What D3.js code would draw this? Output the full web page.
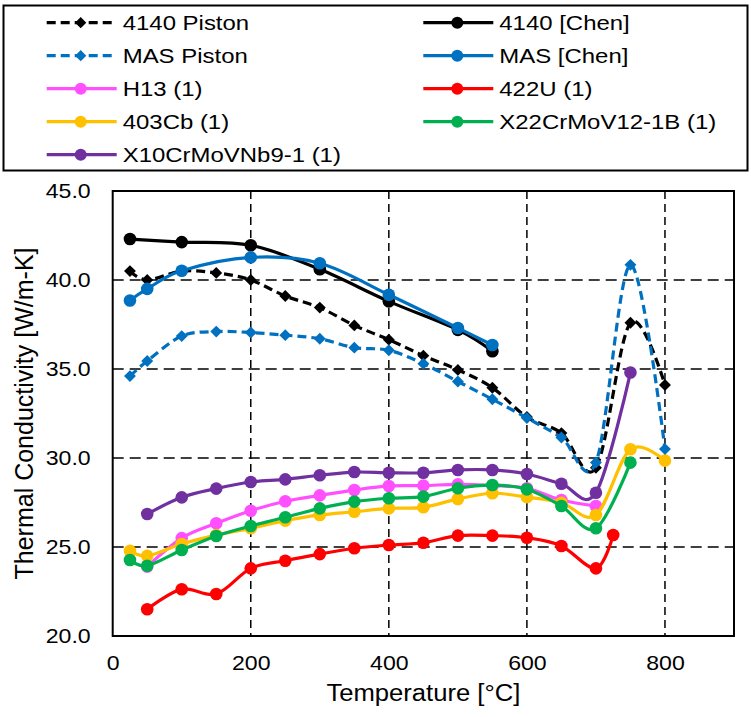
<!DOCTYPE html>
<html>
<head>
<meta charset="utf-8">
<script src="https://cdn.jsdelivr.net/npm/d3@7"></script>
<style>
  body { margin: 0; background: #fff; }
  svg { display: block; font-family: "Liberation Sans", Arial, sans-serif; }
</style>
</head>
<body>
<div class="chart"></div>
<script>
// temperatures [°C] and thermal conductivity [W/m-K]
const piston4140T = [25, 50, 100, 150, 200, 250, 300, 350, 400, 450, 500, 550, 600, 650, 700, 750, 800];
const piston4140K = [40.5, 40.0, 40.5, 40.4, 40.0, 39.1, 38.45, 37.45, 36.65, 35.75, 34.95, 33.95, 32.3, 31.4, 29.45, 37.6, 34.1];

const chen4140T = [25, 100, 200, 300, 400, 500, 550];
const chen4140K = [42.3, 42.13, 41.95, 40.6, 38.8, 37.2, 36.0];

const pistonMasT = [25, 50, 100, 150, 200, 250, 300, 350, 400, 450, 500, 550, 600, 650, 700, 750, 800];
const pistonMasK = [34.6, 35.45, 36.85, 37.1, 37.05, 36.9, 36.7, 36.2, 36.05, 35.3, 34.3, 33.3, 32.25, 31.15, 29.75, 40.85, 30.5];

const chenMasT = [25, 50, 100, 200, 300, 400, 500, 550];
const chenMasK = [38.85, 39.5, 40.52, 41.27, 40.94, 39.17, 37.3, 36.35];

const h13T = [50, 100, 150, 200, 250, 300, 350, 400, 450, 500, 550, 600, 650, 700];
const h13K = [23.9, 25.5, 26.33, 27.04, 27.57, 27.9, 28.2, 28.43, 28.45, 28.52, 28.45, 28.3, 27.64, 27.3];

const u422T = [50, 100, 150, 200, 250, 300, 350, 400, 450, 500, 550, 600, 650, 700, 725];
const u422K = [21.5, 22.63, 22.36, 23.8, 24.23, 24.6, 24.93, 25.11, 25.24, 25.64, 25.64, 25.52, 25.06, 23.8, 25.67];

const cb403T = [25, 50, 100, 150, 200, 250, 300, 350, 400, 450, 500, 550, 600, 650, 700, 750, 800];
const cb403K = [24.78, 24.5, 25.17, 25.67, 26.05, 26.48, 26.8, 26.98, 27.17, 27.23, 27.7, 28.02, 27.8, 27.49, 26.8, 30.49, 29.85];

const x22T = [25, 50, 100, 150, 200, 250, 300, 350, 400, 450, 500, 550, 600, 650, 700, 750];
const x22K = [24.27, 23.95, 24.83, 25.62, 26.18, 26.67, 27.17, 27.55, 27.74, 27.83, 28.3, 28.48, 28.24, 27.3, 26.05, 29.74];

const x10T = [50, 100, 150, 200, 250, 300, 350, 400, 450, 500, 550, 600, 650, 700, 750];
const x10K = [26.85, 27.79, 28.28, 28.65, 28.8, 29.03, 29.21, 29.17, 29.17, 29.33, 29.33, 29.1, 28.55, 28.05, 34.8];

const xTicks = [0, 200, 400, 600, 800];
const yTicks = [20, 25, 30, 35, 40, 45];

// legend order = series order (row-major, two columns)
const series = [
  { name: '4140 Piston', t: piston4140T, k: piston4140K, color: '#000000', dashed: true, marker: 'diamond' },
  { name: '4140 [Chen]', t: chen4140T, k: chen4140K, color: '#000000', dashed: false, marker: 'circle' },
  { name: 'MAS Piston', t: pistonMasT, k: pistonMasK, color: '#0070C0', dashed: true, marker: 'diamond' },
  { name: 'MAS [Chen]', t: chenMasT, k: chenMasK, color: '#0070C0', dashed: false, marker: 'circle' },
  { name: 'H13 (1)', t: h13T, k: h13K, color: '#FF4FFF', dashed: false, marker: 'circle' },
  { name: '422U (1)', t: u422T, k: u422K, color: '#FF0000', dashed: false, marker: 'circle' },
  { name: '403Cb (1)', t: cb403T, k: cb403K, color: '#FFC000', dashed: false, marker: 'circle' },
  { name: 'X22CrMoV12-1B (1)', t: x22T, k: x22K, color: '#00B050', dashed: false, marker: 'circle' },
  { name: 'X10CrMoVNb9-1 (1)', t: x10T, k: x10K, color: '#7030A0', dashed: false, marker: 'circle' }
];

const width = 751;
const height = 717;
const plot = { left: 112.7, right: 734, top: 191, bottom: 636 };

// the original figure is a bit wider than tall, so horizontal text gets stretched
function stretch(sel, factor) {
  sel.each(function () {
    const len = this.getComputedTextLength();
    d3.select(this)
      .attr('textLength', len * factor)
      .attr('lengthAdjust', 'spacingAndGlyphs');
  });
}

const svg = d3.select('.chart')
  .append('svg')
  .attr('width', width)
  .attr('height', height);

const x = d3.scaleLinear().domain([0, 900]).range([plot.left, plot.right]);
const y = d3.scaleLinear().domain([20, 45]).range([plot.bottom, plot.top]);

const diamond = d3.symbol().type(d3.symbolDiamond2).size(90);
const diamondSmall = d3.symbol().type(d3.symbolDiamond2).size(80);

// grid
svg.append('g')
  .selectAll('line')
  .data(yTicks.filter(v => v > 20 && v < 45))
  .join('line')
  .attr('x1', plot.left).attr('x2', plot.right)
  .attr('y1', d => y(d)).attr('y2', d => y(d))
  .attr('stroke', '#000')
  .attr('stroke-width', 1.5)
  .attr('stroke-dasharray', '11,6');

svg.append('g')
  .selectAll('line')
  .data(xTicks.filter(v => v > 0))
  .join('line')
  .attr('x1', d => x(d)).attr('x2', d => x(d))
  .attr('y1', plot.top).attr('y2', plot.bottom)
  .attr('stroke', '#000')
  .attr('stroke-width', 1.5)
  .attr('stroke-dasharray', '8,5');

// plot border
svg.append('rect')
  .attr('x', plot.left).attr('y', plot.top)
  .attr('width', plot.right - plot.left)
  .attr('height', plot.bottom - plot.top)
  .attr('fill', 'none')
  .attr('stroke', '#000')
  .attr('stroke-width', 2);

// axes (labels only, Excel style)
const xAxis = svg.append('g')
  .attr('transform', `translate(0,${plot.bottom})`)
  .call(d3.axisBottom(x).tickValues(xTicks).tickSize(0).tickPadding(19).tickFormat(d3.format('d')));
xAxis.select('.domain').remove();
xAxis.selectAll('text')
  .attr('font-size', 21).attr('fill', '#000')
  .attr('font-family', '"Liberation Sans", Arial, sans-serif')
  .call(stretch, 1.1);

const yAxis = svg.append('g')
  .attr('transform', `translate(${plot.left},0)`)
  .call(d3.axisLeft(y).tickValues(yTicks).tickSize(0).tickPadding(22).tickFormat(d3.format('.1f')));
yAxis.select('.domain').remove();
yAxis.selectAll('text')
  .attr('font-size', 21).attr('fill', '#000')
  .attr('font-family', '"Liberation Sans", Arial, sans-serif')
  .call(stretch, 1.1);

// axis titles
svg.append('text')
  .attr('x', (plot.left + plot.right) / 2)
  .attr('y', 701)
  .attr('text-anchor', 'middle')
  .attr('font-size', 23.5)
  .text('Temperature [°C]')
  .call(stretch, 1.09);

svg.append('text')
  .attr('transform', `translate(33,${(plot.top + plot.bottom) / 2}) rotate(-90)`)
  .attr('text-anchor', 'middle')
  .attr('font-size', 25)
  .text('Thermal Conductivity [W/m-K]');

// series
const line = d3.line()
  .x(d => x(d[0]))
  .y(d => y(d[1]))
  .curve(d3.curveCardinal.tension(0));

const layer = svg.append('g');
series.forEach(s => {
  const pts = s.t.map((t, i) => [t, s.k[i]]);
  const g = layer.append('g');
  g.append('path')
    .datum(pts)
    .attr('d', line)
    .attr('fill', 'none')
    .attr('stroke', s.color)
    .attr('stroke-width', 3.2)
    .attr('stroke-dasharray', s.dashed ? '9,5' : null);
  if (s.marker === 'circle') {
    g.selectAll('circle')
      .data(pts)
      .join('circle')
      .attr('cx', d => x(d[0]))
      .attr('cy', d => y(d[1]))
      .attr('r', 6.3)
      .attr('fill', s.color);
  } else {
    g.selectAll('path.mk')
      .data(pts)
      .join('path')
      .attr('class', 'mk')
      .attr('d', diamond)
      .attr('transform', d => `translate(${x(d[0])},${y(d[1])})`)
      .attr('fill', s.color);
  }
});

// legend
svg.append('rect')
  .attr('x', 3.5).attr('y', 5.5)
  .attr('width', 744).attr('height', 165)
  .attr('fill', '#fff')
  .attr('stroke', '#000')
  .attr('stroke-width', 2);

const colX = [46.7, 423.3];
const rowY0 = 22.7;
const rowStep = 33;
const legend = svg.append('g')
  .selectAll('g')
  .data(series)
  .join('g')
  .attr('transform', (d, i) => `translate(${colX[i % 2]},${rowY0 + Math.floor(i / 2) * rowStep})`);

legend.append('line')
  .attr('x1', 0).attr('x2', 70)
  .attr('stroke', d => d.color)
  .attr('stroke-width', 3.2)
  .attr('stroke-dasharray', d => d.dashed ? '9,5' : null);

legend.filter(d => d.marker === 'circle')
  .append('circle')
  .attr('cx', 34).attr('r', 6)
  .attr('fill', d => d.color);

legend.filter(d => d.marker === 'diamond')
  .append('path')
  .attr('d', diamondSmall)
  .attr('transform', 'translate(34,0)')
  .attr('fill', d => d.color);

legend.append('text')
  .attr('x', 76)
  .attr('dy', '0.36em')
  .attr('font-size', 21)
  .text(d => d.name)
  .call(stretch, 1.14);
</script>
</body>
</html>
